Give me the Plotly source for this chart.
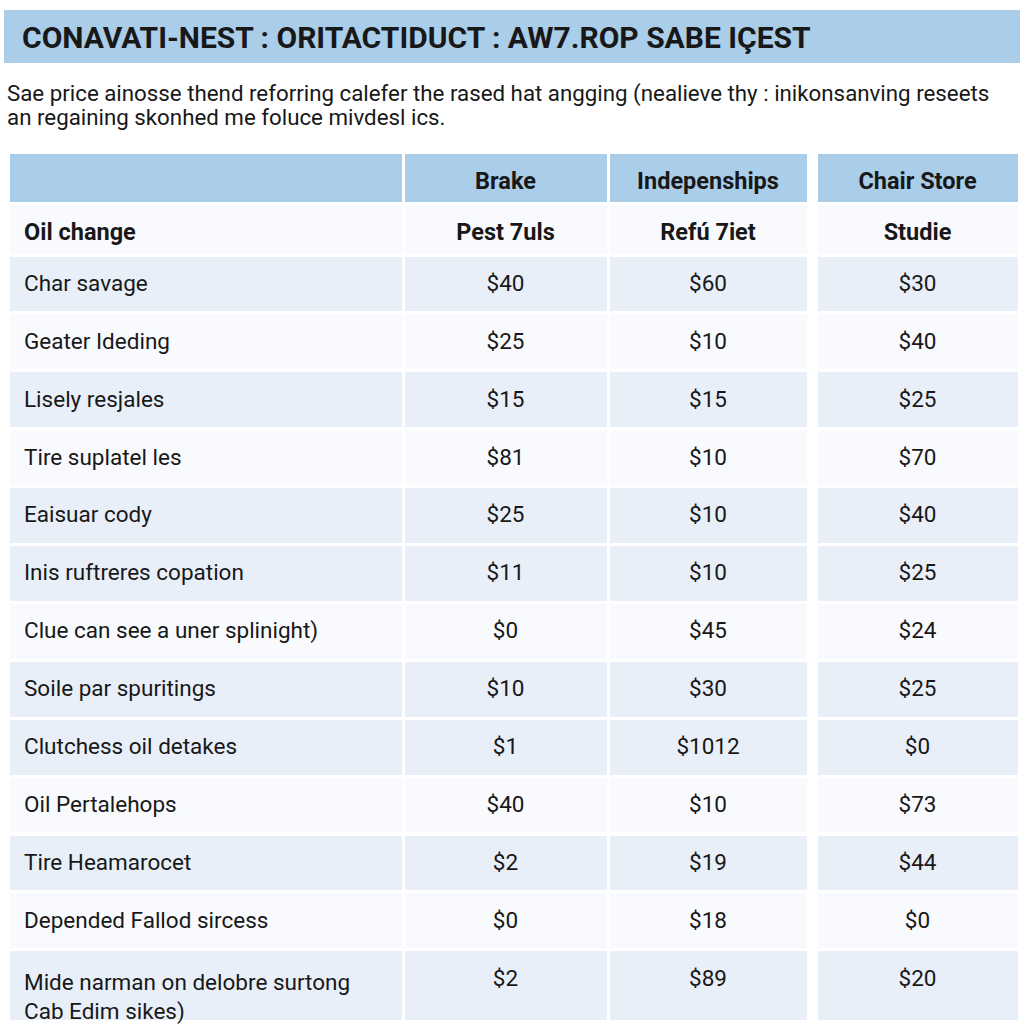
import plotly.graph_objects as go

# ---------------- data ----------------
title_text = "CONAVATI-NEST : ORITACTIDUCT : AW7.ROP SABE IÇEST"
subtitle_lines = [
    "Sae price ainosse thend reforring calefer the rased hat angging (nealieve thy : inikonsanving reseets",
    "an regaining skonhed me foluce mivdesl ics.",
]

col_headers = ["", "Brake", "Indepenships", "Chair Store"]
sub_headers = ["Oil change", "Pest 7uls", "Refú 7iet", "Studie"]

services = [
    "Char savage",
    "Geater Ideding",
    "Lisely resjales",
    "Tire suplatel les",
    "Eaisuar cody",
    "Inis ruftreres copation",
    "Clue can see a uner splinight)",
    "Soile par spuritings",
    "Clutchess oil detakes",
    "Oil Pertalehops",
    "Tire Heamarocet",
    "Depended Fallod sircess",
    "Mide narman on delobre surtong<br>Cab Edim sikes)",
]
brake = [40, 25, 15, 81, 25, 11, 0, 10, 1, 40, 2, 0, 2]
indep = [60, 10, 15, 10, 10, 10, 45, 30, 1012, 10, 19, 18, 89]
chair = [30, 40, 25, 70, 40, 25, 24, 25, 0, 73, 44, 0, 20]

# ---------------- style ----------------
BLUE = "#aacde9"
SHADE = "#e8eff8"
LIGHT = "#f8fafd"
TXT = "#181818"
CLEAR = "rgba(0,0,0,0)"
row_shade = [1, 0, 1, 0, 1, 1, 0, 1, 1, 0, 1, 0, 1]
row_fill = [SHADE if s else LIGHT for s in row_shade]

W = H = 1024
FONT = "Roboto, Arial, sans-serif"
BODY_SIZE = 22.5
HEAD_SIZE = 23.5
HEAD_H = 51.5
ROW_H = 57.9
TEXT_DROP = 11      # pixels to push cell text down to centre it
TEXT_INDENT = 8     # extra left indent of first-column text

# column widths (px): label | brake | indep | gap | chair
col_w = [395, 205, 200, 8, 203]
x_left = 8


def px_x(p):
    return p / W


def px_y(p):
    return 1 - p / H


def money(v):
    return [f"${x}" for x in v]


def blank(s):
    # same number of lines as s, but no visible text (sizes the background rows)
    return "<br>".join([" "] * (s.count("<br>") + 1))


n = len(services)
gap_col = [""] * n

header_vals = [
    [col_headers[0], sub_headers[0]],
    [col_headers[1], sub_headers[1]],
    [col_headers[2], sub_headers[2]],
    ["", ""],
    [col_headers[3], sub_headers[3]],
]
cell_vals = [services, money(brake), money(indep), gap_col, money(chair)]
blank_header = [[blank(v) for v in col] for col in header_vals]
blank_cells = [[blank(v) for v in col] for col in cell_vals]
aligns = ["left", "center", "center", "center", "center"]

head_fill = [[BLUE, LIGHT], [BLUE, LIGHT], [BLUE, LIGHT], ["white", "white"], [BLUE, LIGHT]]
cell_fill = [row_fill, row_fill, row_fill, ["white"] * n, row_fill]

top = 152
right = x_left + sum(col_w)

fig = go.Figure()

# background grid
fig.add_trace(go.Table(
    domain=dict(x=[px_x(x_left), px_x(right)], y=[0, px_y(top)]),
    columnwidth=col_w,
    header=dict(
        values=blank_header,
        fill=dict(color=head_fill),
        line=dict(color="white", width=3),
        align=aligns,
        font=dict(family=FONT, size=HEAD_SIZE, color=CLEAR, weight="bold"),
        height=HEAD_H,
    ),
    cells=dict(
        values=blank_cells,
        fill=dict(color=cell_fill),
        line=dict(color="white", width=3),
        align=aligns,
        font=dict(family=FONT, size=BODY_SIZE, color=CLEAR),
        height=ROW_H,
    ),
))

# text layer, nudged down so text sits centred in each row
col_w_txt = [col_w[0] - TEXT_INDENT] + col_w[1:]
fig.add_trace(go.Table(
    domain=dict(x=[px_x(x_left + TEXT_INDENT), px_x(right)], y=[0, px_y(top + TEXT_DROP)]),
    columnwidth=col_w_txt,
    header=dict(
        values=header_vals,
        fill=dict(color=CLEAR),
        line=dict(color=CLEAR, width=0),
        align=aligns,
        font=dict(family=FONT, size=HEAD_SIZE, color=TXT, weight="bold"),
        height=HEAD_H,
    ),
    cells=dict(
        values=cell_vals,
        fill=dict(color=CLEAR),
        line=dict(color=CLEAR, width=0),
        align=aligns,
        font=dict(family=FONT, size=BODY_SIZE, color=TXT),
        height=ROW_H,
    ),
))

# title band
fig.add_shape(type="rect", xref="paper", yref="paper",
              x0=px_x(4), x1=px_x(1020), y0=px_y(63), y1=px_y(10),
              fillcolor=BLUE, line=dict(width=0), layer="below")

fig.add_annotation(text=f"<b>{title_text}</b>", xref="paper", yref="paper",
                   x=px_x(20), y=px_y(37), xanchor="left", yanchor="middle",
                   showarrow=False, font=dict(family=FONT, size=30, color=TXT))

for i, line in enumerate(subtitle_lines):
    fig.add_annotation(text=line, xref="paper", yref="paper",
                       x=px_x(5), y=px_y(93 + 24 * i), xanchor="left", yanchor="middle",
                       align="left", showarrow=False,
                       font=dict(family=FONT, size=22.3, color=TXT))

fig.update_layout(
    width=W, height=H,
    margin=dict(l=0, r=0, t=0, b=0),
    paper_bgcolor="white", plot_bgcolor="white",
    showlegend=False,
)

fig.write_html("out.html",
               config={"displayModeBar": False},
               post_script="document.body.style.margin='0';document.body.style.overflow='hidden';")
